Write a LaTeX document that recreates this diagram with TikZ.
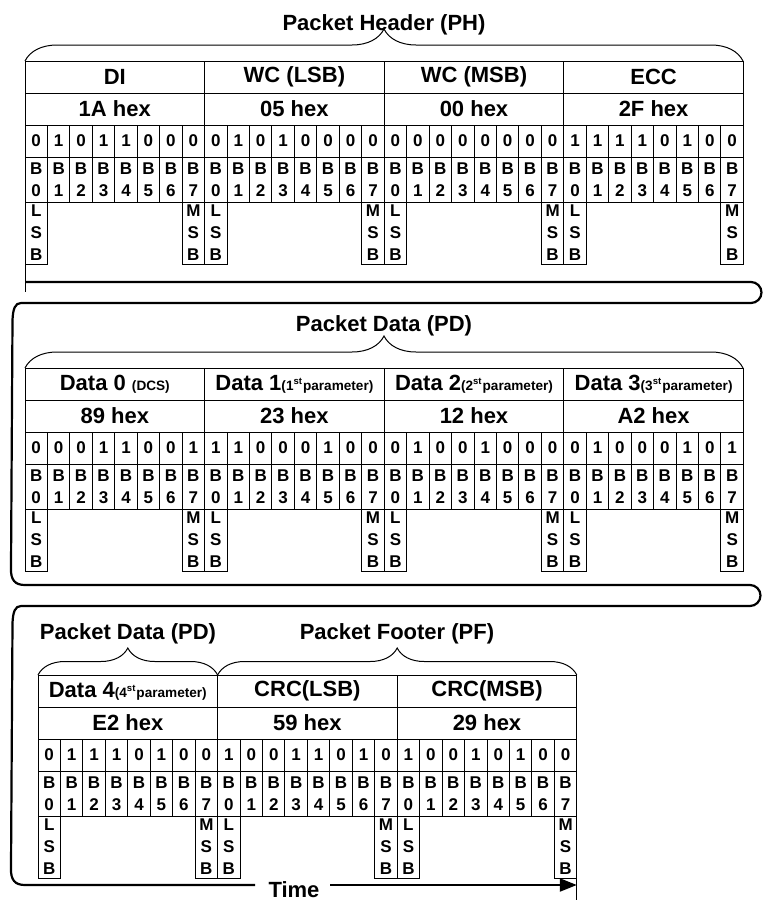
\documentclass[tikz,border=0pt]{standalone}
\usepackage{fontspec}
\setmainfont{Liberation Sans}
\usepackage{tikz}
\usetikzlibrary{arrows.meta,decorations.pathreplacing,positioning}
\newcommand{\smalltag}[1]{{\fontsize{6.8}{8}\selectfont #1}}

\begin{document}
\begin{tikzpicture}[
    x=0.5pt, y=-0.5pt,
    cellline/.style={line width=0.5pt},
    field/.style={rectangle, draw, cellline, anchor=north west, inner sep=0pt, outer sep=0pt, minimum width=89.8pt, minimum height=16pt, font=\fontsize{11}{13}\selectfont\bfseries},
    bitbox/.style={rectangle, draw, cellline, anchor=north west, inner sep=0pt, outer sep=0pt, minimum width=11.225pt, minimum height=16pt, align=center, font=\fontsize{8.5}{11}\selectfont\bfseries},
    namebox/.style={bitbox, minimum height=22.5pt},
    sigbox/.style={bitbox, minimum height=31pt},
    title/.style={anchor=base, font=\fontsize{11}{13}\selectfont\bfseries},
    curly/.style={decorate, decoration={brace, amplitude=#1}, line width=0.5pt},
    timeline/.style={line width=1.1pt}
]
\useasboundingbox (0,0) rectangle (765,900);

% packet header
\node[title] (ph) at (384,30) {Packet Header (PH)};
\draw[curly=16pt] (25,61) -- (743,61);
\foreach \lbl/\hx [count=\i from 0] in {DI/1A, WC (LSB)/05, WC (MSB)/00, ECC/2F} {
  \node[field] (ph-name\i) at (25+\i*179.6,61) {\lbl};
  \node[field] (ph-hex\i) at (25+\i*179.6,93) {\hx{} hex};
}
\foreach \b [count=\i from 0] in {0,1,0,1,1,0,0,0, 0,1,0,1,0,0,0,0, 0,0,0,0,0,0,0,0, 1,1,1,1,0,1,0,0} {
  \pgfmathtruncatemacro\k{mod(\i,8)}
  \node[bitbox] (ph-bit\i) at (25+\i*22.45,125) {\b};
  \node[namebox] (ph-bn\i) at (25+\i*22.45,157) {B\\\k};
}
\foreach \i in {0,...,3} {
  \node[sigbox] (ph-lsb\i) at (25+\i*179.6,202) {L\\S\\B};
  \node[sigbox] (ph-msb\i) at (25+\i*179.6+157.15,202) {M\\S\\B};
}
\draw[cellline] (25,61) -- (25,292);

% packet data
\node[title] (pd) at (384,331) {Packet Data (PD)};
\draw[curly=16pt] (25,368) -- (743,368);
\foreach \lbl/\hx [count=\i from 0] in {
    Data 0 \smalltag{(DCS)}/89,
    Data 1\smalltag{(1\textsuperscript{st}parameter)}/23,
    Data 2\smalltag{(2\textsuperscript{st}parameter)}/12,
    Data 3\smalltag{(3\textsuperscript{st}parameter)}/A2} {
  \node[field] (pd-name\i) at (25+\i*179.6,368) {\lbl};
  \node[field] (pd-hex\i) at (25+\i*179.6,400) {\hx{} hex};
}
\foreach \b [count=\i from 0] in {0,0,0,1,1,0,0,1, 1,1,0,0,0,1,0,0, 0,1,0,0,1,0,0,0, 0,1,0,0,0,1,0,1} {
  \pgfmathtruncatemacro\k{mod(\i,8)}
  \node[bitbox] (pd-bit\i) at (25+\i*22.45,432) {\b};
  \node[namebox] (pd-bn\i) at (25+\i*22.45,464) {B\\\k};
}
\foreach \i in {0,...,3} {
  \node[sigbox] (pd-lsb\i) at (25+\i*179.6,509) {L\\S\\B};
  \node[sigbox] (pd-msb\i) at (25+\i*179.6+157.15,509) {M\\S\\B};
}

% last data byte and packet footer
\node[title] (pd2) at (128,639) {Packet Data (PD)};
\node[title] (pf) at (397,639) {Packet Footer (PF)};
\draw[curly=13.5pt] (38,675) -- (217.6,675);
\draw[curly=13.5pt] (217.6,675) -- (576.8,675);
\foreach \lbl/\hx [count=\i from 0] in {
    Data 4\smalltag{(4\textsuperscript{st}parameter)}/E2, CRC(LSB)/59, CRC(MSB)/29} {
  \node[field] (pf-name\i) at (38+\i*179.6,675) {\lbl};
  \node[field] (pf-hex\i) at (38+\i*179.6,707) {\hx{} hex};
}
\foreach \b [count=\i from 0] in {0,1,1,1,0,1,0,0, 1,0,0,1,1,0,1,0, 1,0,0,1,0,1,0,0} {
  \pgfmathtruncatemacro\k{mod(\i,8)}
  \node[bitbox] (pf-bit\i) at (38+\i*22.45,739) {\b};
  \node[namebox] (pf-bn\i) at (38+\i*22.45,771) {B\\\k};
}
\foreach \i in {0,...,2} {
  \node[sigbox] (pf-lsb\i) at (38+\i*179.6,816) {L\\S\\B};
  \node[sigbox] (pf-msb\i) at (38+\i*179.6+157.15,816) {M\\S\\B};
}
\draw[cellline] (576.8,675) -- (576.8,900);

% time axis
\coordinate (t0) at (25,282);
\coordinate (t1) at (255,885);
\coordinate (t2) at (330,885);
\coordinate (t3) at (576.8,885);
\draw[timeline] (t0) -- (751,282) arc[start angle=-90, end angle=90, radius=10.5]
  -- (21,303) .. controls (15,303) and (13,309) .. (12.5,320) -- (11,568)
  .. controls (10.5,580) and (15,585) .. (25,585)
  -- (750,585) arc[start angle=-90, end angle=90, radius=10.5]
  -- (21,606) .. controls (15,606) and (13,612) .. (12.5,623) -- (11,868)
  .. controls (10.5,880) and (15,885) .. (25,885) -- (t1);
\node[title] (time) at (294,897) {Time};
\draw[timeline, -{Triangle[length=8.5pt, width=6.5pt]}] (t2) -- (t3);
\end{tikzpicture}
\end{document}
